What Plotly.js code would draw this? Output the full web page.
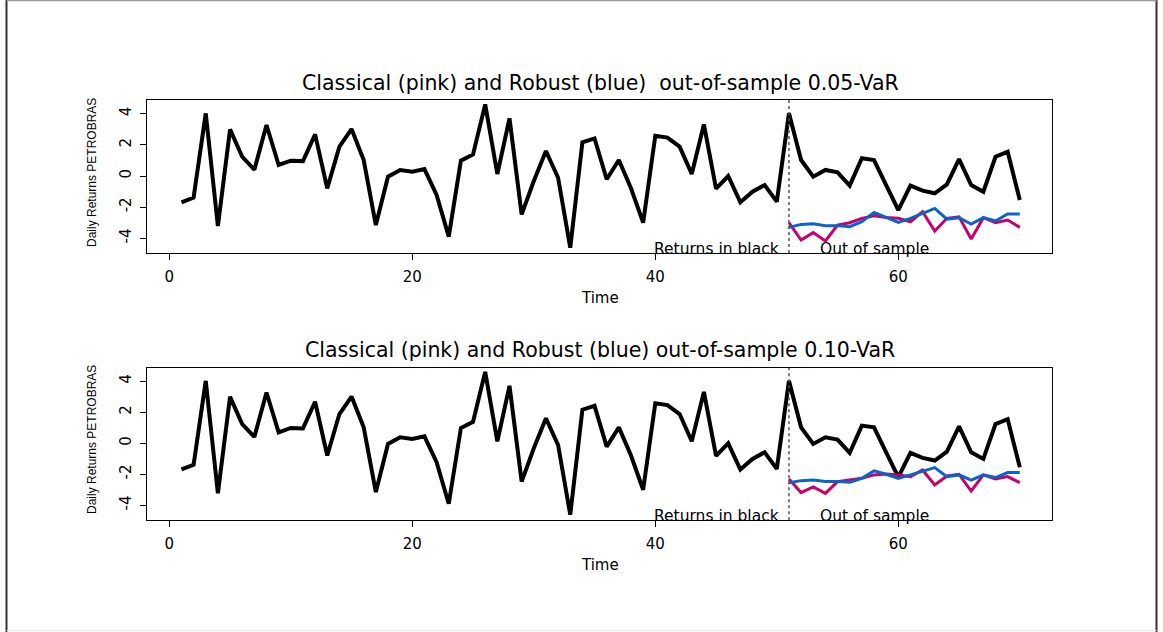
<!DOCTYPE html>
<html>
<head>
<meta charset="utf-8">
<script src="https://cdn.plot.ly/plotly-3.0.1.min.js"></script>
<style>html,body{margin:0;padding:0;background:#fff;}#chart{width:1163px;height:632px;}</style>
</head>
<body>
<div id="chart"></div>
<script>
// Daily returns, t = 1..70
const time = [];
for (let i = 1; i <= 70; i++) time.push(i);
const returnsPetrobras = [
  -1.69, -1.39, 4.03, -3.22, 3.00, 1.24, 0.41, 3.28, 0.71, 0.99,
  0.96, 2.68, -0.79, 1.89, 3.02, 1.03, -3.15, -0.04, 0.39, 0.28,
  0.45, -1.22, -3.90, 0.99, 1.39, 4.61, 0.13, 3.71, -2.47, -0.32,
  1.61, -0.11, -4.61, 2.17, 2.42, -0.21, 1.03, -0.79, -3.00, 2.59,
  2.47, 1.89, 0.13, 3.32, -0.81, 0.00, -1.69, -1.01, -0.58, -1.65,
  4.03, 1.03, -0.04, 0.39, 0.24, -0.62, 1.14, 1.03, -0.58, -2.19,
  -0.62, -0.94, -1.11, -0.54, 1.09, -0.58, -1.01, 1.24, 1.56, -1.54
];
// Out-of-sample period t = 51..70
const timeOut = [];
for (let i = 51; i <= 70; i++) timeOut.push(i);
const classicalVaR05 = [
  -3.00, -4.12, -3.64, -4.18, -3.15, -3.00, -2.72, -2.55, -2.66, -2.72,
  -2.94, -2.29, -3.54, -2.72, -2.62, -4.05, -2.68, -3.00, -2.83, -3.30
];
const robustVaR05 = [
  -3.30, -3.11, -3.07, -3.19, -3.19, -3.26, -2.94, -2.34, -2.66, -2.98,
  -2.72, -2.40, -2.08, -2.77, -2.68, -3.09, -2.68, -2.89, -2.44, -2.44
];
const classicalVaR10 = [
  -2.30, -3.18, -2.82, -3.23, -2.47, -2.37, -2.26, -2.04, -1.98, -2.04,
  -2.15, -1.72, -2.69, -2.11, -2.00, -3.08, -2.04, -2.30, -2.15, -2.54
];
const robustVaR10 = [
  -2.54, -2.41, -2.37, -2.47, -2.47, -2.52, -2.26, -1.78, -2.00, -2.26,
  -2.04, -1.83, -1.57, -2.15, -2.04, -2.37, -2.04, -2.21, -1.89, -1.89
];
const xTicks = [0, 20, 40, 60];
const yTicks = [-4, -2, 0, 2, 4];
const titles = [
  "Classical (pink) and Robust (blue)  out-of-sample 0.05-VaR",
  "Classical (pink) and Robust (blue) out-of-sample 0.10-VaR"
];
const yLabel = "Daily Returns PETROBRAS";
const xLabel = "Time";
const splitTime = 51;

const W = 1163, H = 632;
const FONT = "DejaVu Sans, Liberation Sans, Arial, sans-serif";
const PINK = "#C8006A", BLUE = "#0A64C8";

const traces = [];
function addPanel(ax, cls, rob) {
  traces.push({x: time, y: returnsPetrobras, xaxis: 'x' + ax, yaxis: 'y' + ax, mode: 'lines',
    line: {color: '#000', width: 4}, hoverinfo: 'skip'});
  traces.push({x: timeOut, y: cls, xaxis: 'x' + ax, yaxis: 'y' + ax, mode: 'lines',
    line: {color: PINK, width: 3}});
  traces.push({x: timeOut, y: rob, xaxis: 'x' + ax, yaxis: 'y' + ax, mode: 'lines',
    line: {color: BLUE, width: 3}});
}
addPanel('', classicalVaR05, robustVaR05);
addPanel('2', classicalVaR10, robustVaR10);

const xdom = [147 / W, 1052 / W];
const ydom1 = [1 - 253 / H, 1 - 100 / H];
const ydom2 = [1 - 520.3 / H, 1 - 367.7 / H];

function xax(anchor) {
  return {domain: xdom, anchor: anchor, range: [-1.835, 72.65], tickvals: xTicks,
    ticktext: xTicks.map(String), ticks: 'outside', ticklen: 6, tickcolor: '#000',
    showline: true, mirror: true, linecolor: '#000', linewidth: 1, showgrid: false,
    zeroline: false, ticklabelstandoff: 4,
    tickfont: {family: FONT, size: 15, color: '#000'}};
}
function yax(anchor, dom, rng) {
  return {domain: dom, anchor: anchor, range: rng, tickvals: yTicks,
    ticktext: yTicks.map(String), ticks: 'outside', ticklen: 6, tickcolor: '#000',
    showline: true, mirror: true, linecolor: '#000', linewidth: 1, showgrid: false,
    zeroline: false, tickangle: -90, ticklabelstandoff: 3,
    tickfont: {family: FONT, size: 15, color: '#000'}};
}

const annotations = [];
const panelInfo = [
  {ax: '', titleY: 83, timeY: 298, textY: -4.69, midY: 173},
  {ax: '2', titleY: 350, timeY: 565, textY: -4.69, midY: 440}
];
panelInfo.forEach((p, i) => {
  annotations.push({xref: 'paper', yref: 'paper', x: 600 / W, y: 1 - p.titleY / H,
    text: titles[i], showarrow: false, xanchor: 'center', yanchor: 'middle',
    font: {family: FONT, size: 20.5, color: '#000'}});
  annotations.push({xref: 'paper', yref: 'paper', x: 600 / W, y: 1 - p.timeY / H,
    text: xLabel, showarrow: false, xanchor: 'center', yanchor: 'middle',
    font: {family: FONT, size: 15, color: '#000'}});
  annotations.push({xref: 'paper', yref: 'paper', x: 92 / W, y: 1 - p.midY / H,
    text: yLabel, showarrow: false, textangle: -90, xanchor: 'center', yanchor: 'middle',
    font: {family: "Liberation Sans Narrow, Liberation Sans, Arial, sans-serif", size: 12, color: '#000'}});
  annotations.push({xref: 'x' + p.ax, yref: 'y' + p.ax, x: 45, y: p.textY,
    text: 'Returns in black', showarrow: false, xanchor: 'center', yanchor: 'middle',
    font: {family: FONT, size: 15.5, color: '#000'}});
  annotations.push({xref: 'x' + p.ax, yref: 'y' + p.ax, x: 58, y: p.textY,
    text: 'Out of sample', showarrow: false, xanchor: 'center', yanchor: 'middle',
    font: {family: FONT, size: 15.5, color: '#000'}});
});

const shapes = [
  {type: 'line', xref: 'x', yref: 'y domain', x0: splitTime, x1: splitTime, y0: 0, y1: 1,
    line: {color: '#555', width: 1.5, dash: 'dot'}},
  {type: 'line', xref: 'x2', yref: 'y2 domain', x0: splitTime, x1: splitTime, y0: 0, y1: 1,
    line: {color: '#555', width: 1.5, dash: 'dot'}},
  // outer frame
  {type: 'line', xref: 'paper', yref: 'paper', x0: 6.5 / W, x1: 6.5 / W, y0: 0, y1: 1, line: {color: '#333', width: 2}},
  {type: 'line', xref: 'paper', yref: 'paper', x0: 1156.5 / W, x1: 1156.5 / W, y0: 0, y1: 1, line: {color: '#333', width: 2}},
  {type: 'line', xref: 'paper', yref: 'paper', x0: 6.5 / W, x1: 1156.5 / W, y0: 1 - 0.5 / H, y1: 1 - 0.5 / H, line: {color: '#999', width: 1.5}},
  {type: 'line', xref: 'paper', yref: 'paper', x0: 6.5 / W, x1: 1156.5 / W, y0: 1 - 630.7 / H, y1: 1 - 630.7 / H, line: {color: '#e6e6e6', width: 1}}
];

const layout = {
  width: W, height: H, margin: {l: 0, r: 0, t: 0, b: 0, pad: 0},
  paper_bgcolor: '#fff', plot_bgcolor: '#fff', showlegend: false,
  xaxis: xax('y'), yaxis: yax('x', ydom1, [-4.95, 4.89]),
  xaxis2: xax('y2'), yaxis2: yax('x2', ydom2, [-4.97, 4.88]),
  annotations: annotations, shapes: shapes
};
Plotly.newPlot('chart', traces, layout, {staticPlot: true, displayModeBar: false});
</script>
</body>
</html>
